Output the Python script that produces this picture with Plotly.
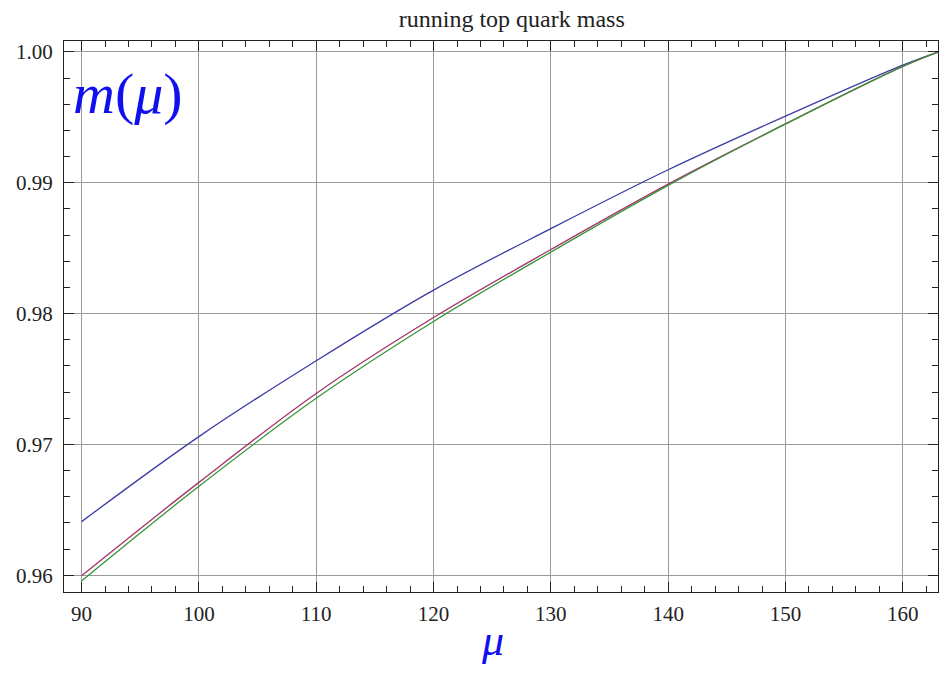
import plotly.graph_objects as go

# data
mu = [90, 100, 110, 120, 130, 140, 150, 160, 163]
m_blue = [0.9641, 0.9706, 0.9764, 0.9818, 0.9865, 0.9910, 0.9951, 0.9990, 1.0000]
m_red = [0.95996, 0.9671, 0.9739, 0.9797, 0.9849, 0.9899, 0.9945, 0.9989, 1.0000]
m_green = [0.95957, 0.9668, 0.97353, 0.9794, 0.9847, 0.9898, 0.9945, 0.9989, 1.0000]

x_ticks = [90, 100, 110, 120, 130, 140, 150, 160]
y_ticks = [0.96, 0.97, 0.98, 0.99, 1.00]

series = [
    (m_blue, "rgb(60,60,165)"),
    (m_red, "rgb(165,50,110)"),
    (m_green, "rgb(55,150,55)"),
]

fig = go.Figure()
for vals, col in series:
    fig.add_trace(go.Scatter(
        x=mu, y=vals, mode="lines",
        line=dict(color=col, width=1.3, shape="spline", smoothing=1.0),
        showlegend=False, hoverinfo="skip",
    ))

font_serif = "Liberation Serif, Times New Roman, serif"

axis_common = dict(
    showline=True, linecolor="#222", linewidth=1.2,
    mirror="ticks", ticks="inside", ticklen=10, tickwidth=1.2, tickcolor="#222",
    showgrid=True, gridcolor="#9a9a9a", gridwidth=1,
    zeroline=False,
    tickfont=dict(family=font_serif, size=21, color="#222"),
)

fig.update_xaxes(
    range=[88.5, 163], tickvals=x_ticks,
    minor=dict(dtick=2, tick0=90, ticks="inside", ticklen=6, tickwidth=1, tickcolor="#222", showgrid=False),
    ticklabelstandoff=3,
    **axis_common,
)
fig.update_yaxes(
    range=[0.95872, 1.00084], tickvals=y_ticks, tickformat=".2f",
    minor=dict(dtick=0.002, tick0=0.96, ticks="inside", ticklen=6, tickwidth=1, tickcolor="#222", showgrid=False),
    ticklabelstandoff=6,
    **axis_common,
)

fig.update_layout(
    width=939, height=674,
    margin=dict(l=64, r=1, t=41, b=82),
    paper_bgcolor="white", plot_bgcolor="white",
    title=dict(text="running top quark mass", x=0.545, xanchor="center", y=0.972, yanchor="middle",
               font=dict(family=font_serif, size=24, color="#222")),
    annotations=[
        dict(text="<i>m</i>(<i>μ</i>)", xref="paper", yref="paper", x=0.008, y=0.905,
             xanchor="left", yanchor="middle", showarrow=False,
             font=dict(family=font_serif, size=58, color="#1010ee")),
        dict(text="<i>μ</i>", xref="paper", yref="paper", x=0.49, y=-0.088,
             xanchor="center", yanchor="middle", showarrow=False,
             font=dict(family=font_serif, size=44, color="#1010ee")),
    ],
)

fig.write_html("out.html")
